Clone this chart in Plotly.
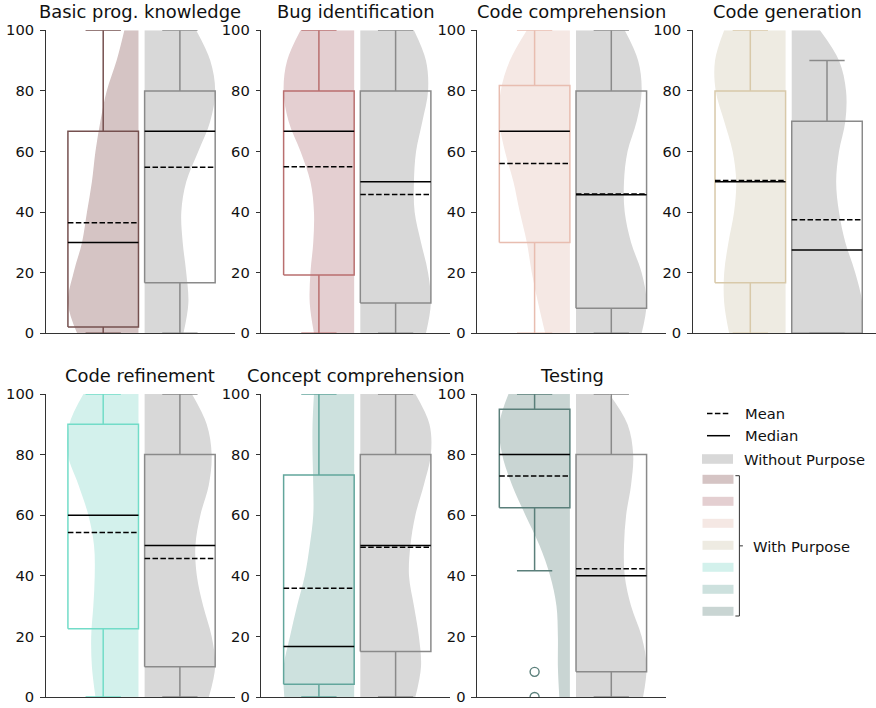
import plotly.graph_objects as go

# ---------------- data ----------------
categories = ["Basic prog. knowledge", "Bug identification", "Code comprehension",
              "Code generation", "Code refinement", "Concept comprehension", "Testing"]
y_ticks = [0, 20, 40, 60, 80, 100]
density_levels = [0, 10, 20, 30, 40, 50, 60, 70, 80, 90, 100]

# relative violin half-widths (1 = widest point), bottom (0) to top (100)
with_density = [
    [0.87, 1.00, 0.92, 0.80, 0.73, 0.66, 0.61, 0.54, 0.45, 0.31, 0.20],
    [0.57, 0.63, 0.62, 0.58, 0.57, 0.62, 0.76, 0.93, 1.00, 0.95, 0.76],
    [0.35, 0.45, 0.54, 0.61, 0.71, 0.80, 0.92, 1.00, 0.98, 0.85, 0.61],
    [0.80, 0.87, 0.87, 0.81, 0.73, 0.70, 0.75, 0.87, 0.99, 1.00, 0.87],
    [0.61, 0.66, 0.67, 0.64, 0.62, 0.63, 0.71, 0.85, 1.00, 0.98, 0.78],
    [0.99, 1.00, 0.91, 0.81, 0.70, 0.63, 0.58, 0.58, 0.59, 0.59, 0.57],
    [0.15, 0.17, 0.17, 0.19, 0.28, 0.43, 0.63, 0.82, 0.96, 1.00, 0.87],
]
without_density = [
    [0.55, 0.62, 0.59, 0.54, 0.52, 0.59, 0.76, 0.93, 1.00, 0.93, 0.73],
    [0.93, 1.00, 0.96, 0.86, 0.77, 0.76, 0.79, 0.88, 0.96, 0.93, 0.76],
    [0.93, 1.00, 0.93, 0.78, 0.69, 0.68, 0.73, 0.86, 0.93, 0.88, 0.69],
    [1.00, 1.00, 0.90, 0.76, 0.67, 0.63, 0.67, 0.76, 0.77, 0.67, 0.40],
    [0.91, 1.00, 0.95, 0.83, 0.74, 0.72, 0.79, 0.91, 0.95, 0.88, 0.67],
    [0.78, 0.86, 0.83, 0.76, 0.69, 0.71, 0.78, 0.90, 1.00, 0.98, 0.78],
    [0.95, 1.00, 0.93, 0.78, 0.69, 0.68, 0.71, 0.78, 0.81, 0.73, 0.47],
]

with_q1 = [2.1, 19.2, 30.0, 16.7, 22.5, 4.2, 62.5]
with_median = [30.0, 66.7, 66.7, 50.0, 60.0, 16.7, 80.0]
with_q3 = [66.7, 80.0, 81.8, 80.0, 90.0, 73.3, 95.0]
with_low = [0.0, 0.0, 0.0, 0.0, 0.0, 0.0, 41.7]
with_high = [100.0, 100.0, 100.0, 100.0, 100.0, 100.0, 100.0]
with_mean = [36.5, 55.0, 56.0, 50.4, 54.3, 35.9, 72.9]
with_outliers = [[], [], [], [], [], [], [8.3, 0.0]]

without_q1 = [16.7, 10.0, 8.3, 0.0, 10.0, 15.0, 8.3]
without_median = [66.7, 50.0, 45.7, 27.5, 50.0, 50.0, 40.0]
without_q3 = [80.0, 80.0, 80.0, 70.0, 80.0, 80.0, 80.0]
without_low = [0.0, 0.0, 0.0, 0.0, 0.0, 0.0, 0.0]
without_high = [100.0, 100.0, 100.0, 90.0, 100.0, 100.0, 100.0]
without_mean = [54.8, 45.8, 46.0, 37.5, 45.7, 49.4, 42.3]
without_outliers = [[], [], [], [], [], [], []]

legend_labels = ["Mean", "Median", "Without Purpose", "With Purpose"]

# ---------------- styles ----------------
with_line_colors = ["#75504f", "#b96f6f", "#e8bdb0", "#d8c9a9", "#72dcc8", "#62a69c", "#5a7f7a"]
with_fill_colors = ["#d5c4c4", "#e4cfd1", "#f5e8e4", "#eeebe2", "#d3f1ec", "#cde1de", "#c9d5d3"]
without_line_color = "#8a8a8a"
without_fill_color = "#d8d8d8"
axis_color = "#333333"
text_color = "#111111"
FONT = "DejaVu Sans"
DASH = "5.5px,2.4px"

W, H = 876, 708
col_left_px = [45.7, 261.4, 477.1, 692.8]
panel_w_px = 189.0
row_top_px = [30.3, 394.0]
row_h_px = 303.0
unit_px = 76.7
first_center_px = 57.5
box_w = 0.92
half = box_w / 2
cap_half = box_w * 0.25
positions = [0, 1]

fig = go.Figure()
layout_axes = {}
annotations = []
shapes = []


def add_violin(xa, ya, pos, direction, dens, fcol):
    edge = pos - direction * half  # flat side of the half violin sits on the box edge
    fig.add_trace(go.Scatter(x=[edge, edge], y=[density_levels[0], density_levels[-1]],
                             mode="lines", line=dict(width=0), hoverinfo="skip",
                             showlegend=False, xaxis=xa, yaxis=ya))
    fig.add_trace(go.Scatter(x=[edge + direction * d * box_w for d in dens], y=density_levels,
                             mode="lines", line=dict(width=0, shape="spline", smoothing=1),
                             fill="tonextx", fillcolor=fcol, hoverinfo="skip",
                             showlegend=False, xaxis=xa, yaxis=ya))


def add_box(xa, ya, pos, q1, med, q3, lo, hi, mean, outl, lcol):
    fig.add_trace(go.Scatter(
        x=[pos, pos, None, pos, pos, None, pos - cap_half, pos + cap_half, None,
           pos - cap_half, pos + cap_half],
        y=[q3, hi, None, lo, q1, None, hi, hi, None, lo, lo],
        mode="lines", line=dict(color=lcol, width=1.5), hoverinfo="skip",
        showlegend=False, xaxis=xa, yaxis=ya))
    fig.add_trace(go.Scatter(
        x=[pos - half, pos + half, pos + half, pos - half, pos - half],
        y=[q1, q1, q3, q3, q1],
        mode="lines", line=dict(color=lcol, width=1.5), hoverinfo="skip",
        showlegend=False, xaxis=xa, yaxis=ya))
    fig.add_trace(go.Scatter(
        x=[pos - half, pos + half], y=[med, med], mode="lines",
        line=dict(color="black", width=1.5), hoverinfo="skip",
        showlegend=False, xaxis=xa, yaxis=ya))
    fig.add_trace(go.Scatter(
        x=[pos - half, pos + half], y=[mean, mean], mode="lines",
        line=dict(color="black", width=1.5, dash=DASH), hoverinfo="skip",
        showlegend=False, xaxis=xa, yaxis=ya))
    if outl:
        fig.add_trace(go.Scatter(
            x=[pos] * len(outl), y=outl, mode="markers",
            marker=dict(symbol="circle-open", size=9, color=lcol, line=dict(width=1.4)),
            hoverinfo="skip", showlegend=False, xaxis=xa, yaxis=ya))


for i, cat in enumerate(categories):
    r, c = divmod(i, 4)
    sfx = "" if i == 0 else str(i + 1)
    xa, ya = "x" + sfx, "y" + sfx
    xl = col_left_px[c]
    xr = min(xl + panel_w_px, W)
    yt = row_top_px[r]
    yb = yt + row_h_px
    x0 = -first_center_px / unit_px
    x1 = x0 + (xr - xl) / unit_px
    layout_axes["xaxis" + sfx] = dict(
        domain=[xl / W, xr / W], range=[x0, x1], anchor=ya, showline=True,
        linecolor=axis_color, linewidth=1.3, showticklabels=False, ticks="",
        showgrid=False, zeroline=False, fixedrange=True, automargin=False)
    layout_axes["yaxis" + sfx] = dict(
        domain=[1 - yb / H, 1 - yt / H], range=[0, 100], anchor=xa,
        tickmode="array", tickvals=y_ticks, ticktext=[str(t) for t in y_ticks],
        ticks="outside", ticklen=4.5, tickwidth=1.2, tickcolor=axis_color,
        showline=True, linecolor=axis_color, linewidth=1.3, showgrid=False,
        zeroline=False, fixedrange=True, ticklabelstandoff=3, automargin=False,
        tickfont=dict(family=FONT, size=14.7, color=text_color))

    add_violin(xa, ya, positions[0], -1, with_density[i], with_fill_colors[i])
    add_violin(xa, ya, positions[1], +1, without_density[i], without_fill_color)
    add_box(xa, ya, positions[0], with_q1[i], with_median[i], with_q3[i], with_low[i],
            with_high[i], with_mean[i], with_outliers[i], with_line_colors[i])
    add_box(xa, ya, positions[1], without_q1[i], without_median[i], without_q3[i], without_low[i],
            without_high[i], without_mean[i], without_outliers[i], without_line_color)

    annotations.append(dict(
        text=cat, x=(xl + panel_w_px / 2) / W,
        y=1 - yt / H, xref="paper", yref="paper", xanchor="center", yanchor="bottom",
        yshift=6, showarrow=False, font=dict(family=FONT, size=17.9, color=text_color)))

# ---------------- custom legend ----------------
def px_x(v):
    return v / W


def px_y(v):
    return 1 - v / H


leg_line_x = (707, 730)
leg_patch_x = (702.5, 733.5)
leg_text_x = 743
leg_rows = [413.5, 435.7, 459.0]
patch_rows = [479.3, 501.3, 523.3, 545.3, 567.3, 589.3, 611.3]
patch_h = 9.0

for k, dash in enumerate([DASH, "solid"]):
    yy = leg_rows[k]
    shapes.append(dict(type="line", xref="paper", yref="paper",
                       x0=px_x(leg_line_x[0]), x1=px_x(leg_line_x[1]),
                       y0=px_y(yy), y1=px_y(yy),
                       line=dict(color="black", width=1.5, dash=dash)))
    annotations.append(dict(text=legend_labels[k], x=px_x(leg_text_x), y=px_y(yy),
                            xref="paper", yref="paper", xanchor="left", yanchor="middle",
                            showarrow=False, font=dict(family=FONT, size=14.7, color=text_color)))

yy = leg_rows[2]
shapes.append(dict(type="rect", xref="paper", yref="paper",
                   x0=px_x(leg_patch_x[0] - 0.5), x1=px_x(leg_patch_x[1] - 0.5),
                   y0=px_y(yy - patch_h / 2 - 0.3), y1=px_y(yy + patch_h / 2 + 0.3),
                   line=dict(width=0), fillcolor=without_fill_color))
annotations.append(dict(text=legend_labels[2], x=px_x(leg_text_x - 1), y=px_y(yy),
                        xref="paper", yref="paper", xanchor="left", yanchor="middle",
                        showarrow=False, font=dict(family=FONT, size=14.7, color=text_color)))

for k, fc in enumerate(with_fill_colors):
    yy = patch_rows[k]
    shapes.append(dict(type="rect", xref="paper", yref="paper",
                       x0=px_x(leg_patch_x[0]), x1=px_x(leg_patch_x[1]),
                       y0=px_y(yy - patch_h / 2), y1=px_y(yy + patch_h / 2),
                       line=dict(width=0), fillcolor=fc))

bx = 739.4
b_top = patch_rows[0] - 3.6
b_bot = patch_rows[-1] + 4.7
b_mid = (b_top + b_bot) / 2
for (xa0, ya0, xa1, ya1) in [(bx, b_top, bx, b_bot), (bx - 4, b_top, bx, b_top),
                             (bx - 4, b_bot, bx, b_bot), (bx, b_mid, bx + 3.5, b_mid)]:
    shapes.append(dict(type="line", xref="paper", yref="paper",
                       x0=px_x(xa0), x1=px_x(xa1), y0=px_y(ya0), y1=px_y(ya1),
                       line=dict(color=axis_color, width=1)))
annotations.append(dict(text=legend_labels[3], x=px_x(751), y=px_y(b_mid + 0.5),
                        xref="paper", yref="paper", xanchor="left", yanchor="middle",
                        showarrow=False, font=dict(family=FONT, size=14.7, color=text_color)))

fig.update_layout(
    width=W, height=H, margin=dict(l=0, r=0, t=0, b=0, pad=0, autoexpand=False),
    paper_bgcolor="white", plot_bgcolor="white",
    font=dict(family=FONT, size=14.7, color=text_color),
    showlegend=False, annotations=annotations, shapes=shapes,
    **layout_axes)

# the page's default body margin would shift the figure; remove it
fig.write_html("out.html", config={"displayModeBar": False},
               post_script="document.body.style.margin='0px';document.body.style.overflow='hidden';")
